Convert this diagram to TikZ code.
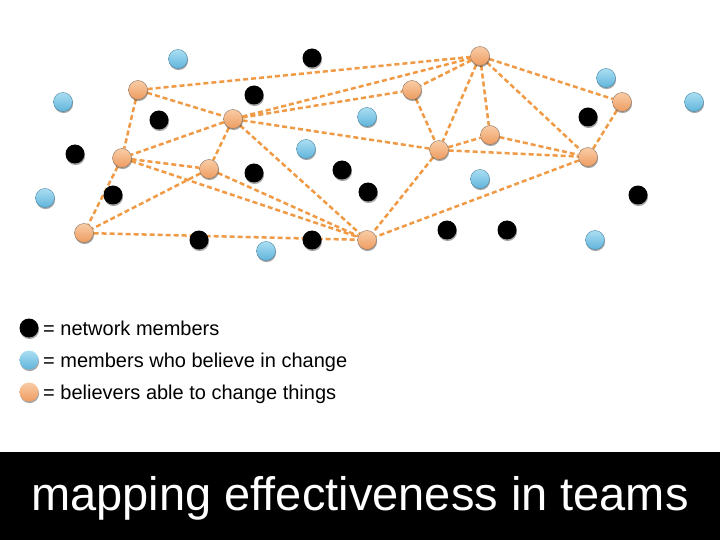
\documentclass[tikz,border=0pt]{standalone}
\usepackage{fontspec}
\setmainfont{Liberation Sans}
\usetikzlibrary{shadows,backgrounds}
\definecolor{edgeor}{HTML}{F09A45}
\definecolor{ortop}{HTML}{F9CCA6}
\definecolor{orbot}{HTML}{EE9C60}
\definecolor{orline}{HTML}{8C7462}
\definecolor{bltop}{HTML}{ABDEF3}
\definecolor{blbot}{HTML}{60B4DB}
\definecolor{blline}{HTML}{4A88A6}
\tikzset{
  dot/.style={circle,inner sep=0pt,minimum size=19pt,
    drop shadow={shadow xshift=0.6pt,shadow yshift=-1.6pt,fill=black,opacity=0.35}},
  blk/.style={dot,fill=black},
  blu/.style={dot,top color=bltop,bottom color=blbot,draw=blline,line width=0.4pt},
  ora/.style={dot,top color=ortop,bottom color=orbot,draw=orline,line width=0.4pt},
  lblu/.style={dot,top color=bltop,bottom color=blbot},
  lora/.style={dot,top color=ortop,bottom color=orbot},
  link/.style={draw=edgeor,line width=2.5pt,dash pattern=on 5pt off 3pt},
  legtext/.style={anchor=base west,inner sep=0pt,font=\fontsize{20}{24}\selectfont},
}
\begin{document}
\begin{tikzpicture}[x=1pt,y=-1pt]
\useasboundingbox (0,0) rectangle (720,540);
% black nodes
\node[blk] (b1) at (312,58) {};
\node[blk] (b2) at (254,95) {};
\node[blk] (b3) at (159,120) {};
\node[blk] (b4) at (75,154) {};
\node[blk] (b5) at (113,195) {};
\node[blk] (b6) at (254,173) {};
\node[blk] (b7) at (342,170) {};
\node[blk] (b8) at (368,192) {};
\node[blk] (b9) at (199,240) {};
\node[blk] (b10) at (312,240) {};
\node[blk] (b11) at (447,230) {};
\node[blk] (b12) at (507,230) {};
\node[blk] (b13) at (588,117) {};
\node[blk] (b14) at (638,195) {};
% blue nodes
\node[blu] (c1) at (178,59) {};
\node[blu] (c2) at (63,102) {};
\node[blu] (c3) at (45,198) {};
\node[blu] (c4) at (306,149) {};
\node[blu] (c5) at (266,251) {};
\node[blu] (c6) at (367,117) {};
\node[blu] (c7) at (480,179) {};
\node[blu] (c8) at (606,78) {};
\node[blu] (c9) at (694,102) {};
\node[blu] (c10) at (595,240) {};
% orange nodes
\node[ora] (o1) at (138,90) {};
\node[ora] (o2) at (233,119) {};
\node[ora] (o3) at (122,158) {};
\node[ora] (o4) at (209,169) {};
\node[ora] (o5) at (84,233) {};
\node[ora] (o6) at (367,240) {};
\node[ora] (o7) at (480,56) {};
\node[ora] (o8) at (412,90) {};
\node[ora] (o9) at (439,150) {};
\node[ora] (o10) at (490,135) {};
\node[ora] (o11) at (588,157) {};
\node[ora] (o12) at (622,102) {};
% legend
\node[blk] (l1) at (29,328) {};
\node[lblu] (l2) at (29,360) {};
\node[lora] (l3) at (29,392) {};
\node[legtext] (t1) at (43,335) {= network members};
\node[legtext] (t2) at (43,367) {= members who believe in change};
\node[legtext] (t3) at (43,399) {= believers able to change things};
% title band
\fill[black] (0,452) rectangle (720,540);
\node[anchor=base,inner sep=0pt,text=white,font=\fontsize{47}{56}\selectfont] (title) at (360,510) {mapping effectiveness in teams};
\begin{scope}[on background layer]
\fill[white] (0,0) rectangle (720,540);
\foreach \a/\b in {o1/o7,o1/o2,o1/o3,o2/o7,o2/o8,o2/o9,o2/o3,o2/o4,o2/o6,
  o3/o4,o3/o6,o3/o5,o4/o6,o4/o5,o5/o6,o7/o8,o7/o9,o7/o10,o7/o11,o7/o12,
  o8/o9,o9/o10,o9/o11,o9/o6,o10/o11,o11/o6,o11/o12}
  \draw[link] (\a) -- (\b);
\end{scope}
\end{tikzpicture}
\end{document}
